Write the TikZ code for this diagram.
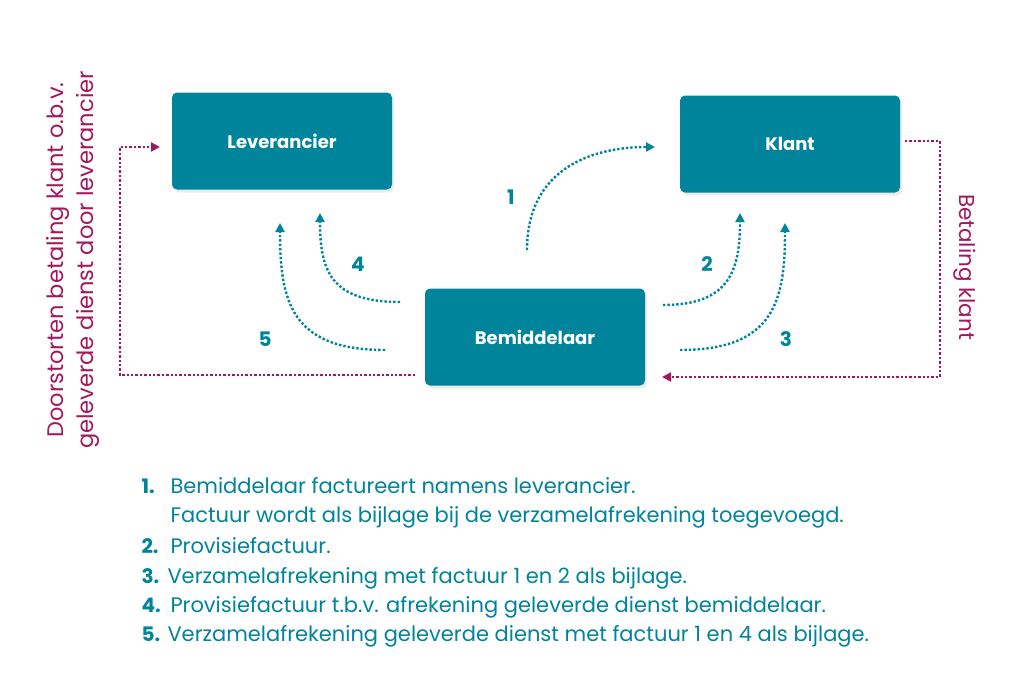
\documentclass[tikz,border=0pt]{standalone}
\usepackage{fontspec}
\setmainfont{Poppins}
\usetikzlibrary{arrows.meta,shadows}
\definecolor{teal}{HTML}{00849B}
\definecolor{mag}{HTML}{A3185D}
\begin{document}
\begin{tikzpicture}[x=1pt,y=-1pt,
 box/.style={fill=teal,rounded corners=5pt,minimum width=220pt,minimum height=97pt,text=white,font=\fontsize{18}{20}\selectfont\bfseries,drop shadow={shadow xshift=2pt,shadow yshift=-3pt,opacity=0.15}},
 ta/.style={teal,line width=2.4pt,dotted,-{Triangle[length=9pt,width=9pt]}},
 ma/.style={mag,line width=2.4pt,dotted,-{Triangle[length=9pt,width=9pt]}},
 num/.style={teal,font=\fontsize{20}{22}\selectfont\bfseries},
 li/.style={teal,anchor=base west,font=\fontsize{21}{24}\selectfont}]
\useasboundingbox (0,0) rectangle (1024,683);
\node[box] (lev) at (282,141) {Leverancier};
\node[box] (kl) at (790,144) {Klant};
\node[box] (bem) at (535,337) {Bemiddelaar};
\coordinate (s1) at (527,250); \coordinate (e1) at (655,147);
\draw[ta] (s1) .. controls (527,170) and (590,147) .. (e1);
\coordinate (s4) at (400,302); \coordinate (e4) at (320,213);
\draw[ta] (s4) .. controls (330,302) and (320,270) .. (e4);
\coordinate (s5) at (385,350); \coordinate (e5) at (280,223);
\draw[ta] (s5) .. controls (290,350) and (280,300) .. (e5);
\coordinate (s2) at (663,305); \coordinate (e2) at (740,213);
\draw[ta] (s2) .. controls (730,305) and (740,270) .. (e2);
\coordinate (s3) at (680,350); \coordinate (e3) at (785,223);
\draw[ta] (s3) .. controls (775,350) and (785,300) .. (e3);
\node[num] (n1) at (511,197) {1};
\node[num] (n4) at (358,264) {4};
\node[num] (n5) at (265,339) {5};
\node[num] (n2) at (707,264) {2};
\node[num] (n3) at (786,339) {3};
\coordinate (ml1) at (415,375); \coordinate (ml2) at (120,375); \coordinate (ml3) at (120,147); \coordinate (ml4) at (160,147);
\draw[ma] (ml1) -- (ml2) -- (ml3) -- (ml4);
\coordinate (mr1) at (905,141); \coordinate (mr2) at (940,141); \coordinate (mr3) at (940,377); \coordinate (mr4) at (662,377);
\draw[ma] (mr1) -- (mr2) -- (mr3) -- (mr4);
\node[mag,rotate=90,align=center,font=\fontsize{22.5}{30}\selectfont] (lt) at (73,260) {Doorstorten betaling klant o.b.v.\\geleverde dienst door leverancier};
\node[mag,rotate=-90,font=\fontsize{21.5}{24}\selectfont] (rt) at (965,267) {Betaling klant};
\node[num,anchor=base west] (i1) at (138,493) {1.};
\node[li] (t1) at (167,493) {Bemiddelaar factureert namens leverancier.};
\node[li] (t1b) at (167,522) {Factuur wordt als bijlage bij de verzamelafrekening toegevoegd.};
\node[num,anchor=base west] (i2) at (138,553) {2.};
\node[li] (t2) at (167,553) {Provisiefactuur.};
\node[num,anchor=base west] (i3) at (138,583) {3.};
\node[li] (t3) at (164,583) {Verzamelafrekening met factuur 1 en 2 als bijlage.};
\node[num,anchor=base west] (i4) at (138,612) {4.};
\node[li] (t4) at (167,612) {Provisiefactuur t.b.v. afrekening geleverde dienst bemiddelaar.};
\node[num,anchor=base west] (i5) at (138,641) {5.};
\node[li] (t5) at (164,641) {Verzamelafrekening geleverde dienst met factuur 1 en 4 als bijlage.};
\end{tikzpicture}
\end{document}
